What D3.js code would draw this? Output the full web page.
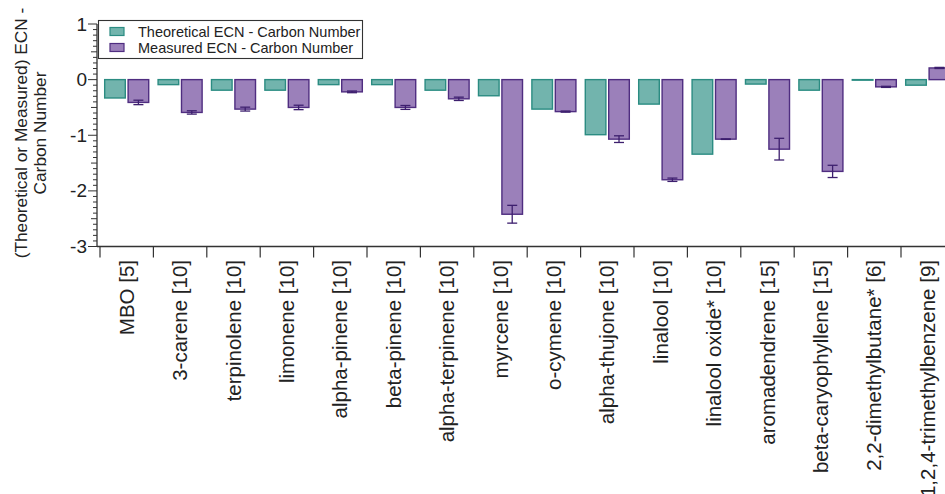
<!DOCTYPE html>
<html>
<head>
<meta charset="utf-8">
<script src="https://cdn.jsdelivr.net/npm/d3@7"></script>
<style>
  html, body { margin: 0; padding: 0; background: #fff; }
  svg { display: block; font-family: "Liberation Sans", Arial, sans-serif; }
</style>
</head>
<body>
<svg id="chart" width="945" height="494"></svg>
<script>
const categories = ["MBO [5]", "3-carene [10]", "terpinolene [10]", "limonene [10]", "alpha-pinene [10]", "beta-pinene [10]", "alpha-terpinene [10]", "myrcene [10]", "o-cymene [10]", "alpha-thujone [10]", "linalool [10]", "linalool oxide* [10]", "aromadendrene [15]", "beta-caryophyllene [15]", "2,2-dimethylbutane* [6]", "1,2,4-trimethylbenzene [9]"];
const theoretical = [-0.33, -0.09, -0.19, -0.19, -0.09, -0.09, -0.19, -0.29, -0.53, -0.99, -0.44, -1.34, -0.08, -0.19, -0.01, -0.10];
const measured = [-0.41, -0.59, -0.53, -0.50, -0.22, -0.50, -0.345, -2.42, -0.575, -1.07, -1.80, -1.07, -1.25, -1.65, -0.13, 0.21];
const measuredErr = [0.04, 0.03, 0.035, 0.04, 0.015, 0.035, 0.03, 0.16, 0.01, 0.06, 0.03, 0.005, 0.195, 0.11, 0.01, 0.01];
const seriesNames = ["Theoretical ECN - Carbon Number", "Measured ECN - Carbon Number"];
const yTicks = [1, 0, -1, -2, -3];

const svg = d3.select("#chart");
const colors = {
  tFill: "#72b4ad", tStroke: "#2b8c82",
  mFill: "#9b80ba", mStroke: "#4f2d80", err: "#3d1f6e"
};

const x = d3.scaleBand().domain(categories).range([100, 954.4]).paddingInner(0).paddingOuter(0);
const y = d3.scaleLinear().domain([-3, 1]).range([246.5, 24]);
const sub = d3.scaleBand().domain(["t", "m"]).range([0, x.bandwidth()]).paddingInner(0.12).paddingOuter(0.2);

// bars
const g = svg.append("g");
categories.forEach((c, i) => {
  const x0 = x(c);
  const tv = theoretical[i], mv = measured[i];
  g.append("rect")
    .attr("x", x0 + sub("t")).attr("width", sub.bandwidth())
    .attr("y", y(Math.max(0, tv))).attr("height", Math.max(0.5, Math.abs(y(tv) - y(0))))
    .attr("fill", colors.tFill).attr("stroke", colors.tStroke).attr("stroke-width", 1.4);
  g.append("rect")
    .attr("x", x0 + sub("m")).attr("width", sub.bandwidth())
    .attr("y", y(Math.max(0, mv))).attr("height", Math.max(0.5, Math.abs(y(mv) - y(0))))
    .attr("fill", colors.mFill).attr("stroke", colors.mStroke).attr("stroke-width", 1.4);
  // error bar
  const cx = x0 + sub("m") + sub.bandwidth() / 2;
  const e = measuredErr[i];
  const y1 = y(mv - e), y2 = y(mv + e);
  g.append("line").attr("x1", cx).attr("x2", cx).attr("y1", y1).attr("y2", y2)
    .attr("stroke", colors.err).attr("stroke-width", 1.3);
  [y1, y2].forEach(yy => {
    g.append("line").attr("x1", cx - 5).attr("x2", cx + 5).attr("y1", yy).attr("y2", yy)
      .attr("stroke", colors.err).attr("stroke-width", 1.3);
  });
});

// y axis
const yAxisG = svg.append("g").attr("transform", "translate(97,0)");
const minor = d3.range(-3, 1.0001, 0.1).map(v => Math.round(v * 10) / 10);
yAxisG.append("line").attr("x1", 0).attr("x2", 0).attr("y1", y(1)).attr("y2", y(-3))
  .attr("stroke", "#333").attr("stroke-width", 1.3);
minor.forEach(v => {
  const isMajor = Math.abs(v - Math.round(v)) < 1e-6;
  const isHalf = Math.abs(Math.abs(v % 1) - 0.5) < 1e-6;
  const len = isMajor ? 9 : (isHalf ? 6 : 4);
  yAxisG.append("line").attr("x1", -len).attr("x2", 0).attr("y1", y(v)).attr("y2", y(v))
    .attr("stroke", "#333").attr("stroke-width", 1);
});
const yAx = d3.axisLeft(y).tickValues(yTicks).tickSize(0).tickPadding(10).tickFormat(d3.format("d"));
const yAxLabels = svg.append("g").attr("transform", "translate(97,0)").call(yAx);
yAxLabels.select(".domain").remove();
yAxLabels.selectAll("text").attr("font-size", 19).attr("fill", "#222")
  .attr("font-family", "Liberation Sans, Arial, sans-serif").text(d => d < 0 ? "-" + Math.abs(d) : d);

// x axis
const xAx = d3.axisBottom(x).tickSize(0).tickFormat("");
const xg = svg.append("g").attr("transform", `translate(0,${y(-3)})`).call(xAx);
xg.select(".domain").remove();
xg.append("line").attr("x1", 97).attr("x2", 945).attr("y1", 0).attr("y2", 0)
  .attr("stroke", "#333").attr("stroke-width", 1.3);
categories.forEach(c => {
  xg.append("line").attr("x1", x(c)).attr("x2", x(c)).attr("y1", 0).attr("y2", 11)
    .attr("stroke", "#333").attr("stroke-width", 1.2);
});
categories.forEach(c => {
  const cx = x(c) + x.bandwidth() / 2;
  svg.append("text")
    .attr("transform", `translate(${cx},260) rotate(-90)`)
    .attr("text-anchor", "end").attr("dy", "0.35em")
    .attr("font-size", 20.5).attr("fill", "#222")
    .text(c);
});

// y axis title
const yt = svg.append("text").attr("transform", "translate(27,133) rotate(-90)")
  .attr("text-anchor", "middle").attr("font-size", 17.3).attr("fill", "#222");
yt.append("tspan").attr("x", 0).attr("y", 0).text("(Theoretical or Measured) ECN -");
yt.append("tspan").attr("x", 0).attr("y", 18.5).text("Carbon Number");

// legend
const lg = svg.append("g");
lg.append("rect").attr("x", 98.5).attr("y", 20.5).attr("width", 264).attr("height", 38)
  .attr("fill", "#fff").attr("stroke", "#333").attr("stroke-width", 1.1);
const legendItems = [
  { name: seriesNames[0], fill: colors.tFill, stroke: colors.tStroke },
  { name: seriesNames[1], fill: colors.mFill, stroke: colors.mStroke }
];
legendItems.forEach((d, i) => {
  const yy = 27.5 + i * 16;
  lg.append("rect").attr("x", 110).attr("y", yy).attr("width", 14).attr("height", 8)
    .attr("fill", d.fill).attr("stroke", d.stroke).attr("stroke-width", 1.2);
  lg.append("text").attr("x", 138).attr("y", yy + 9).attr("font-size", 14.5).attr("fill", "#222").text(d.name);
});
</script>
</body>
</html>
